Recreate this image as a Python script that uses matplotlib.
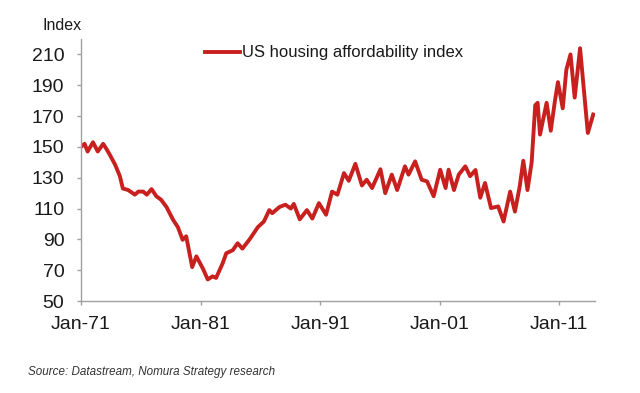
import matplotlib.pyplot as plt

# values (year as decimal, index level)
years = [1971.0, 1971.3, 1971.55, 1972.0, 1972.4, 1972.85, 1973.1, 1973.4, 1973.85,
         1974.25, 1974.5, 1974.95, 1975.5, 1975.8, 1976.2, 1976.5, 1976.9, 1977.3,
         1977.7, 1978.15, 1978.7, 1979.1, 1979.5, 1979.8, 1980.3, 1980.65, 1981.2,
         1981.6, 1982.0, 1982.3, 1982.85, 1983.15, 1983.7, 1984.1, 1984.5, 1985.1,
         1985.8, 1986.3, 1986.75, 1987.0, 1987.6, 1988.1, 1988.55, 1988.8, 1989.3,
         1989.9, 1990.35, 1990.9, 1991.5, 1992.0, 1992.45, 1993.0, 1993.4, 1993.95,
         1994.5, 1994.9, 1995.35, 1996.05, 1996.45, 1997.0, 1997.45, 1998.1, 1998.4,
         1998.95, 1999.5, 1999.95, 2000.5, 2001.05, 2001.5, 2001.75, 2002.2, 2002.6,
         2003.15, 2003.55, 2004.0, 2004.4, 2004.8, 2005.3, 2005.9, 2006.35, 2006.9,
         2007.3, 2007.7, 2008.0, 2008.35, 2008.7, 2009.0, 2009.2, 2009.4, 2009.95,
         2010.3, 2010.65, 2010.9, 2011.3, 2011.6, 2011.95, 2012.3, 2012.75, 2013.4,
         2013.85]
index = [150, 152, 147, 153, 147, 152, 149, 145, 138.5,
         131, 123, 122, 119, 121, 121, 119, 122.6, 118,
         115.7, 111, 102.7, 98, 89.7, 92, 72, 79, 71,
         64, 66, 65, 74.5, 81, 83, 87.5, 84, 90,
         98, 101.6, 109, 107, 111, 112.5, 110, 113, 103,
         109, 103.5, 113.5, 106, 121, 119, 133, 128, 139,
         125, 128.7, 123.3, 135.5, 120, 132, 122, 137.4, 132,
         140.6, 128.7, 127.6, 118, 135.2, 123.3, 135.2, 122, 132,
         137.4, 131, 135, 117, 126.6, 110.3, 111.4, 101.6, 121,
         108, 124.3, 141, 122, 140, 177, 178.6, 158, 178.6,
         160.5, 180, 192, 175, 200, 210, 182, 214, 159,
         171]

tick_years = [1971, 1981, 1991, 2001, 2011]
tick_labels = ["Jan-71", "Jan-81", "Jan-91", "Jan-01", "Jan-11"]
yticks = [50, 70, 90, 110, 130, 150, 170, 190, 210]

plt.rcParams['font.family'] = ['Liberation Sans', 'DejaVu Sans']

fig = plt.figure(figsize=(6.4, 3.93), dpi=100)
ax = fig.add_axes([0.1266, 0.234, 0.8031, 0.6668])

ax.plot(years, index, color='#c8201e', lw=2.8, solid_joinstyle='round',
        label="US housing affordability index")

ax.set_xlim(1971, 2014)
ax.set_ylim(50, 220)
ax.set_xticks(tick_years)
ax.set_xticklabels(tick_labels)
ax.set_yticks(yticks)

for s in ['top', 'right']:
    ax.spines[s].set_visible(False)
for s in ['left', 'bottom']:
    ax.spines[s].set_color('#a0a0a0')
    ax.spines[s].set_linewidth(1.0)
ax.tick_params(colors='#a0a0a0', labelcolor='#1a1a1a', labelsize=14,
               length=3, width=1.0, direction='out')
ax.tick_params(axis='y', pad=9)
ax.tick_params(axis='x', pad=8)

leg = ax.legend(loc='center left', bbox_to_anchor=(0.241, 0.947), frameon=False,
                fontsize=12, handlelength=2.1, handletextpad=0.1,
                borderpad=0, borderaxespad=0)
for t in leg.get_texts():
    t.set_color('#1a1a1a')

fig.text(43 / 640, 1 - 26 / 393, "Index", fontsize=11.5, color='#1a1a1a',
         ha='left', va='center')
fig.text(28 / 640, 1 - 372 / 393, "Source: Datastream, Nomura Strategy research",
         fontsize=8.4, style='italic', color='#333333', ha='left', va='center')

fig.savefig("out.png", dpi=100)
